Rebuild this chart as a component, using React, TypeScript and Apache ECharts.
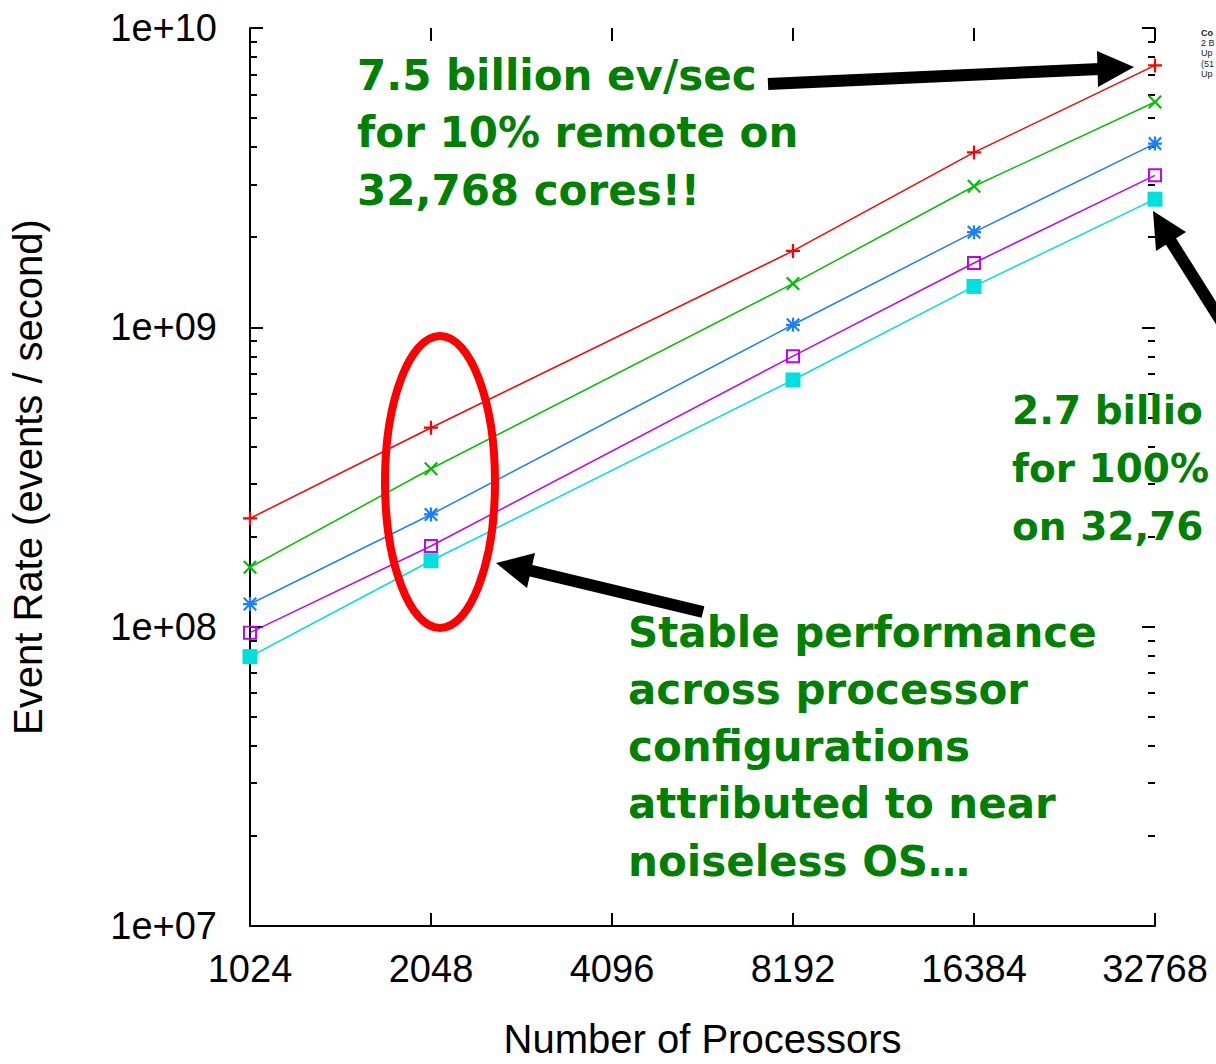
import React, { useEffect, useRef } from "react";
import * as echarts from "echarts";

// ---- data ----
const PROCESSORS = [1024, 2048, 8192, 16384, 32768];
const SERIES_NAMES = ["10% remote", "25% remote", "50% remote", "75% remote", "100% remote"];
const RATE_A = [2.3e8, 4.62e8, 1.8e9, 3.84e9, 7.5e9];
const RATE_B = [1.58e8, 3.37e8, 1.4e9, 2.96e9, 5.66e9];
const RATE_C = [1.19e8, 2.37e8, 1.02e9, 2.08e9, 4.11e9];
const RATE_D = [9.55e7, 1.86e8, 8.01e8, 1.64e9, 3.22e9];
const RATE_E = [7.94e7, 1.66e8, 6.67e8, 1.37e9, 2.68e9];

const X_TICKS = [1024, 2048, 4096, 8192, 16384, 32768];
const Y_MAJOR_TICKS = [1e7, 1e8, 1e9, 1e10];
const Y_MINOR_TICKS = [
  2e7, 3e7, 4e7, 5e7, 6e7, 7e7, 8e7, 9e7,
  2e8, 3e8, 4e8, 5e8, 6e8, 7e8, 8e8, 9e8,
  2e9, 3e9, 4e9, 5e9, 6e9, 7e9, 8e9, 9e9,
];

const COLORS = ["#ff0000", "#00c000", "#1a80ff", "#c000ff", "#00dede"];
const SYMBOLS = [
  "path://M4.2,0H5.8V4.2H10V5.8H5.8V10H4.2V5.8H0V4.2H4.2Z",
  "path://M0,1.1L1.1,0L5,3.9L8.9,0L10,1.1L6.1,5L10,8.9L8.9,10L5,6.1L1.1,10L0,8.9L3.9,5Z",
  "path://M4.2,0H5.8V4.2H10V5.8H5.8V10H4.2V5.8H0V4.2H4.2Z M0,1.1L1.1,0L5,3.9L8.9,0L10,1.1L6.1,5L10,8.9L8.9,10L5,6.1L1.1,10L0,8.9L3.9,5Z",
  "path://M0,0H10V10H0Z M1.4,1.4V8.6H8.6V1.4Z",
  "rect",
];

const ANNOT_TOP = ["7.5 billion ev/sec", "for 10% remote on", "32,768 cores!!"];
// only the part visible inside the picture's right edge
const ANNOT_RIGHT = ["2.7 billio", "for 100%", "on 32,76"];
const ANNOT_BOTTOM = [
  "Stable performance",
  "across processor",
  "configurations",
  "attributed to near",
  "noiseless OS…",
];
const LEGEND_LINES = ["Co", "2 B", "Up", "(51", "Up"];

const FONT = "'Liberation Sans', Arial, sans-serif";
const ANNOT_FONT = "'DejaVu Sans', sans-serif";
const GREEN = "#008000";

function fmtExp(v: number): string {
  const e = Math.round(Math.log10(v));
  return "1e+" + (e < 10 ? "0" + e : String(e));
}

export default function App() {
  const ref = useRef<HTMLDivElement>(null);

  useEffect(() => {
    if (!ref.current) return;
    const chart = echarts.init(ref.current, null, { renderer: "svg" });

    const tickStyle = { color: "#000", width: 2 };
    const rates = [RATE_A, RATE_B, RATE_C, RATE_D, RATE_E];

    const series = rates.map((arr, i) => ({
      name: SERIES_NAMES[i],
      type: "line",
      xAxisIndex: 0,
      yAxisIndex: 0,
      data: PROCESSORS.map((p, j) => [p, arr[j]]),
      symbol: SYMBOLS[i],
      symbolSize: i === 4 ? 15 : 14,
      showAllSymbol: true,
      lineStyle: { color: COLORS[i], width: 1.5 },
      itemStyle: { color: COLORS[i] },
      z: 3,
    }));

    const graphics: any[] = [];
    const addText = (lines: string[], x: number, y0: number, dy: number, size: number) => {
      lines.forEach((t, i) => {
        graphics.push({
          type: "text",
          x,
          y: y0 + i * dy,
          z: 100,
          style: {
            text: t,
            fill: GREEN,
            font: `bold ${size}px ${ANNOT_FONT}`,
            verticalAlign: "middle",
          },
        });
      });
    };
    addText(ANNOT_TOP, 357, 75, 57.5, 42);
    addText(ANNOT_RIGHT, 1012, 410, 58, 39);
    addText(ANNOT_BOTTOM, 628, 632, 57.3, 42);

    LEGEND_LINES.forEach((t, i) => {
      graphics.push({
        type: "text",
        x: 1201,
        y: 33 + i * 10.2,
        z: 100,
        style: {
          text: t,
          fill: "#222",
          font: `${i === 0 ? "bold " : ""}9px ${FONT}`,
          verticalAlign: "middle",
        },
      });
    });

    // arrows
    const arrow = (sx: number, sy: number, ex: number, ey: number, head: number[][]) => {
      graphics.push({
        type: "line",
        z: 101,
        shape: { x1: sx, y1: sy, x2: ex, y2: ey },
        style: { stroke: "#000", lineWidth: 12 },
      });
      graphics.push({
        type: "polygon",
        z: 101,
        shape: { points: head },
        style: { fill: "#000" },
      });
    };
    arrow(768, 84, 1100, 69, [[1134, 67], [1097, 51], [1098, 87]]);
    arrow(1235, 343, 1170, 240, [[1153, 211], [1186, 232], [1156, 251]]);
    arrow(703, 612, 528, 570, [[496, 563], [535, 553], [527, 588]]);

    // ellipse highlight
    graphics.push({
      type: "ellipse",
      z: 102,
      shape: { cx: 440, cy: 482, rx: 55, ry: 146 },
      style: { fill: "none", stroke: "#ff0000", lineWidth: 8 },
    });

    const option: any = {
      animation: false,
      backgroundColor: "#fff",
      grid: { left: 250, right: 61, top: 28, bottom: 132, containLabel: false },
      xAxis: [
        {
          type: "log",
          logBase: 2,
          min: 1024,
          max: 32768,
          position: "bottom",
          axisLine: { show: true, lineStyle: tickStyle },
          axisTick: { show: true, inside: true, length: 13, lineStyle: tickStyle, customValues: X_TICKS },
          axisLabel: {
            customValues: X_TICKS,
            formatter: (v: number) => String(Math.round(v)),
            fontSize: 38,
            color: "#000",
            margin: 24,
            fontFamily: FONT,
          },
          splitLine: { show: false },
          name: "Number of Processors",
          nameLocation: "middle",
          nameGap: 93,
          nameTextStyle: { fontSize: 40, color: "#000", fontFamily: FONT },
        },
        {
          type: "log",
          logBase: 2,
          min: 1024,
          max: 32768,
          position: "top",
          axisLine: { show: false },
          axisTick: { show: true, inside: true, length: 13, lineStyle: tickStyle, customValues: X_TICKS },
          axisLabel: { show: false },
          splitLine: { show: false },
        },
      ],
      yAxis: [
        {
          type: "log",
          logBase: 10,
          min: 1e7,
          max: 1e10,
          position: "left",
          axisLine: { show: true, lineStyle: tickStyle },
          axisTick: { show: true, inside: true, length: 13, lineStyle: tickStyle, customValues: Y_MAJOR_TICKS },
          axisLabel: {
            customValues: Y_MAJOR_TICKS,
            formatter: (v: number) => fmtExp(v),
            fontSize: 38,
            color: "#000",
            margin: 33,
            fontFamily: FONT,
          },
          splitLine: { show: false },
          name: "Event Rate (events / second)",
          nameLocation: "middle",
          nameGap: 202,
          nameRotate: 90,
          nameTextStyle: { fontSize: 40, color: "#000", fontFamily: FONT },
        },
        {
          type: "log",
          logBase: 10,
          min: 1e7,
          max: 1e10,
          position: "left",
          axisLine: { show: false },
          axisTick: { show: true, inside: true, length: 7, lineStyle: tickStyle, customValues: Y_MINOR_TICKS },
          axisLabel: { show: false },
          splitLine: { show: false },
        },
        {
          type: "log",
          logBase: 10,
          min: 1e7,
          max: 1e10,
          position: "right",
          axisLine: { show: false },
          axisTick: { show: true, inside: true, length: 13, lineStyle: tickStyle, customValues: Y_MAJOR_TICKS },
          axisLabel: { show: false },
          splitLine: { show: false },
        },
        {
          type: "log",
          logBase: 10,
          min: 1e7,
          max: 1e10,
          position: "right",
          axisLine: { show: false },
          axisTick: { show: true, inside: true, length: 7, lineStyle: tickStyle, customValues: Y_MINOR_TICKS },
          axisLabel: { show: false },
          splitLine: { show: false },
        },
      ],
      series,
      graphic: graphics,
    };

    chart.setOption(option);
    return () => chart.dispose();
  }, []);

  return (
    <div
      ref={ref}
      style={{ position: "fixed", left: 0, top: 0, width: 1216, height: 1064, background: "#fff" }}
    />
  );
}
